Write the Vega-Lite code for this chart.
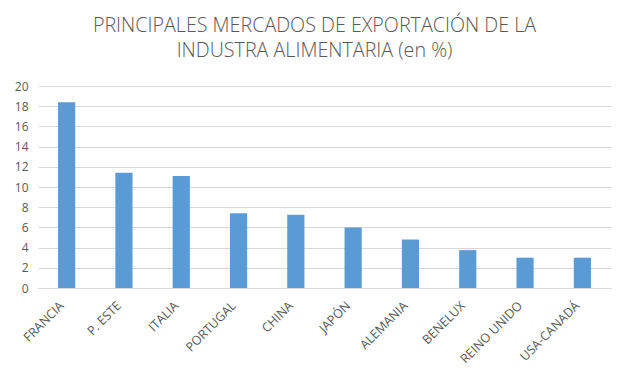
{
  "$schema": "https://vega.github.io/schema/vega-lite/v6.json",
  "autosize": "none",
  "width": 573,
  "height": 202,
  "padding": {"left": 38, "top": 86, "right": 19, "bottom": 90},
  "background": "white",
  "title": {
    "text": ["PRINCIPALES MERCADOS DE EXPORTACIÓN DE LA", "INDUSTRA ALIMENTARIA (en %)"],
    "font": "Open Sans",
    "fontSize": 19.7,
    "fontWeight": 300,
    "color": "#595959",
    "anchor": "middle",
    "dx": -10,
    "offset": 19,
    "lineHeight": 25
  },
  "data": {
    "values": [
      {"mercado": "FRANCIA", "valor": 18.4},
      {"mercado": "P. ESTE", "valor": 11.4},
      {"mercado": "ITALIA", "valor": 11.1},
      {"mercado": "PORTUGAL", "valor": 7.4},
      {"mercado": "CHINA", "valor": 7.25},
      {"mercado": "JAPÓN", "valor": 6.0},
      {"mercado": "ALEMANIA", "valor": 4.8},
      {"mercado": "BENELUX", "valor": 3.75},
      {"mercado": "REINO UNIDO", "valor": 3.0},
      {"mercado": "USA-CANADÁ", "valor": 3.0}
    ]
  },
  "mark": {"type": "bar", "color": "#5b9bd5"},
  "encoding": {
    "x": {
      "field": "mercado",
      "type": "nominal",
      "sort": null,
      "scale": {"paddingInner": 0.7, "paddingOuter": 0.35},
      "axis": {
        "title": null,
        "labelAngle": -45,
        "labelFont": "Open Sans",
        "labelFontSize": 12.5,
        "labelColor": "#595959",
        "ticks": false,
        "domainColor": "#d9d9d9",
        "labelPadding": 11,
        "labelOffset": -9
      }
    },
    "y": {
      "field": "valor",
      "type": "quantitative",
      "scale": {"domain": [0, 20], "nice": false},
      "axis": {
        "title": null,
        "values": [0, 2, 4, 6, 8, 10, 12, 14, 16, 18, 20],
        "labelFont": "Open Sans",
        "labelFontSize": 12,
        "labelColor": "#595959",
        "ticks": false,
        "domain": false,
        "gridColor": "#d9d9d9",
        "labelPadding": 10
      }
    }
  },
  "config": {"view": {"stroke": null}}
}
